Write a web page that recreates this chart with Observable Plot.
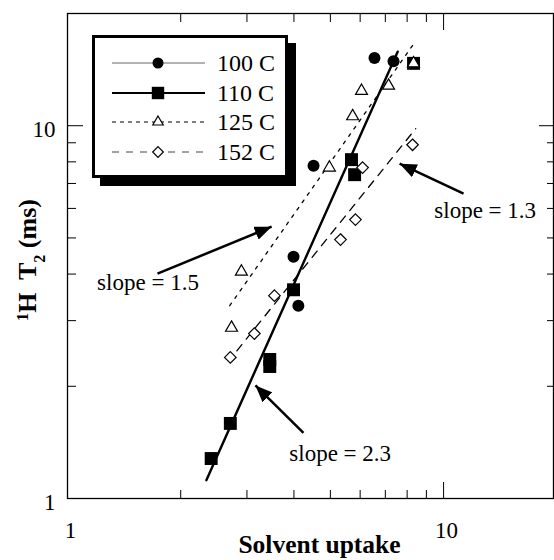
<!DOCTYPE html>
<html><head><meta charset="utf-8">
<script src="https://cdn.jsdelivr.net/npm/d3@7"></script>
<script src="https://cdn.jsdelivr.net/npm/@observablehq/plot@0.6"></script>
<style>
html,body{margin:0;padding:0;background:#fff;}
#chart{position:relative;width:554px;height:560px;overflow:hidden;}
#legend{position:absolute;left:0;top:0;}
</style></head><body><div id="chart"></div>
<script>
// ---- data ----
const seriesNames = ["100 C", "110 C", "125 C", "152 C"];
const x100 = [6.55, 7.36, 4.51, 3.99, 4.11];
const y100 = [15.2, 14.9, 7.81, 4.45, 3.29];
const x110 = [2.41, 2.71, 3.45, 3.45, 3.99, 5.69, 5.80, 8.32];
const y110 = [1.28, 1.59, 2.36, 2.26, 3.63, 8.11, 7.39, 14.7];
const x125 = [8.32, 7.14, 6.05, 5.73, 4.97, 2.90, 2.73];
const y125 = [14.7, 12.8, 12.4, 10.6, 7.72, 4.06, 2.87];
const x152 = [8.27, 6.09, 5.83, 5.32, 3.55, 3.14, 2.71];
const y152 = [8.89, 7.72, 5.60, 4.95, 3.50, 2.77, 2.39];
const fitX110 = [2.34, 7.55], fitY110 = [1.12, 15.8];
const fitX125 = [2.70, 8.37], fitY125 = [3.29, 16.7];
const fitX152 = [2.82, 8.43], fitY152 = [2.49, 9.82];
const slopeLabels = ["slope = 1.5", "slope = 1.3", "slope = 2.3"];
const labelX = [1.637, 12.9, 5.31];
const labelY = [3.80, 5.92, 1.32];
const arrowX1 = [1.735, 11.3, 4.24], arrowY1 = [4.01, 6.57, 1.50];
const arrowX2 = [3.49, 7.64, 3.16], arrowY2 = [5.36, 7.91, 2.01];
const xDomain = [1, 19.6], yDomain = [1, 20];
const minorTicks = [2, 3, 4, 5, 6, 7, 8, 9];
const majorTicks = [10];
const tickValues = [1, 10];
const tickLabels = ["1", "10"];
const xTitle = "Solvent uptake";
const yTitleParts = [["1", "super"], ["H  T", null], ["2", "sub"], [" (ms)", null]];
const yTitle = "\u00b9H  T\u2082 (ms)";

// ---- helpers ----
const pts = (xs, ys) => xs.map((x, i) => ({x, y: ys[i]}));
const NS = "http://www.w3.org/2000/svg";
function filledArrow(color, context) {
  const doc = (context && context.document) || document;
  const m = doc.createElementNS(NS, "marker");
  m.setAttribute("viewBox", "-17 -7 17 14");
  m.setAttribute("markerWidth", 17);
  m.setAttribute("markerHeight", 14);
  m.setAttribute("refX", 0);
  m.setAttribute("refY", 0);
  m.setAttribute("orient", "auto");
  m.setAttribute("markerUnits", "userSpaceOnUse");
  const p = doc.createElementNS(NS, "path");
  p.setAttribute("d", "M-17,-7L0,0L-17,7Z");
  p.setAttribute("fill", color);
  p.setAttribute("stroke", "none");
  m.appendChild(p);
  return m;
}
const labelFmt = d => tickLabels[tickValues.indexOf(d)];
const noText = {fill: "none", label: null};

const arrows = arrowX1.map((x1, i) => ({x1, y1: arrowY1[i], x2: arrowX2[i], y2: arrowY2[i]}));
const labels = slopeLabels.map((t, i) => ({t, x: labelX[i], y: labelY[i]}));

const chart = Plot.plot({
  width: 554, height: 560,
  marginLeft: 67, marginRight: 1, marginTop: 13, marginBottom: 62,
  x: {type: "log", domain: xDomain},
  y: {type: "log", domain: yDomain},
  style: {fontFamily: "'Liberation Serif','Times New Roman',serif", fontSize: "22px", background: "white", color: "black"},
  marks: [
    // inward ticks on all four sides
    Plot.axisX(minorTicks, {anchor: "bottom", tickSize: 8, dy: -8, ...noText}),
    Plot.axisX(majorTicks, {anchor: "bottom", tickSize: 16, dy: -16, ...noText}),
    Plot.axisX(minorTicks, {anchor: "top", tickSize: 8, dy: 8, ...noText}),
    Plot.axisX(majorTicks, {anchor: "top", tickSize: 16, dy: 16, ...noText}),
    Plot.axisY(minorTicks, {anchor: "left", tickSize: 9, dx: 9, ...noText}),
    Plot.axisY(majorTicks, {anchor: "left", tickSize: 16, dx: 16, ...noText}),
    Plot.axisY(minorTicks, {anchor: "right", tickSize: 7, dx: -7, ...noText}),
    Plot.axisY(majorTicks, {anchor: "right", tickSize: 15, dx: -15, ...noText}),
    // tick labels
    Plot.axisX(tickValues, {anchor: "bottom", tickSize: 0, tickPadding: 23, dx: 3, fontSize: 23, tickFormat: labelFmt, label: null}),
    Plot.axisY(tickValues, {anchor: "left", tickSize: 0, tickPadding: 12, dy: 4, fontSize: 23, tickFormat: labelFmt, label: null}),
    Plot.frame({stroke: "black", strokeWidth: 1.3}),
    // fitted lines
    Plot.line(pts(fitX110, fitY110), {x: "x", y: "y", stroke: "black", strokeWidth: 2.4}),
    Plot.line(pts(fitX125, fitY125), {x: "x", y: "y", stroke: "black", strokeWidth: 1.3, strokeDasharray: "3,6"}),
    Plot.line(pts(fitX152, fitY152), {x: "x", y: "y", stroke: "black", strokeWidth: 1.3, strokeDasharray: "8,7"}),
    // annotation arrows
    Plot.link(arrows, {x1: "x1", y1: "y1", x2: "x2", y2: "y2", stroke: "black", strokeWidth: 2.5, markerEnd: filledArrow}),
    // data points
    Plot.dot(pts(x100, y100), {x: "x", y: "y", symbol: "circle", r: 6, fill: "black"}),
    Plot.dot(pts(x110, y110), {x: "x", y: "y", symbol: "square", r: 7.3, fill: "black"}),
    Plot.dot(pts(x125, y125), {x: "x", y: "y", symbol: "triangle2", r: 5.7, fill: "white", stroke: "black", strokeWidth: 1.2}),
    Plot.dot(pts(x152, y152), {x: "x", y: "y", symbol: "diamond2", r: 5.2, fill: "white", stroke: "black", strokeWidth: 1.2}),
    // slope labels
    Plot.text(labels, {x: "x", y: "y", text: "t", fontSize: 23, textAnchor: "middle"}),
    // axis titles
    Plot.text([xTitle], {frameAnchor: "bottom", text: d => d, textAnchor: "middle", lineAnchor: "middle", dx: 9, dy: 46, fontSize: 25.5, fontWeight: "bold"}),
    Plot.text([yTitle], {frameAnchor: "left", text: d => d, textAnchor: "middle", lineAnchor: "middle", rotate: -90, dx: -40, dy: 4, fontSize: 26, fontWeight: "bold"})
  ]
});

// rich y title (superscript / subscript)
chart.querySelectorAll("text").forEach(t => {
  if (t.textContent === yTitle) {
    while (t.firstChild) t.removeChild(t.firstChild);
    for (const [s, shift] of yTitleParts) {
      const ts = document.createElementNS(NS, "tspan");
      ts.textContent = s;
      if (shift) { ts.setAttribute("baseline-shift", shift); ts.setAttribute("font-size", "62%"); }
      t.appendChild(ts);
    }
    t.style.whiteSpace = "pre";
  }
});

const holder = document.getElementById("chart");
holder.appendChild(chart);

// ---- legend (boxed, with drop shadow) ----
const legendStyles = [
  {stroke: "#666", width: 1, dash: null, symbol: d3.symbolCircle, r: 5.5, fill: "black", mstroke: "none"},
  {stroke: "black", width: 1.8, dash: null, symbol: d3.symbolSquare, r: 7, fill: "black", mstroke: "none"},
  {stroke: "black", width: 1.2, dash: "4,4", symbol: d3.symbolTriangle2, r: 5, fill: "white", mstroke: "black"},
  {stroke: "#444", width: 1, dash: "7,7", symbol: d3.symbolDiamond2, r: 4.8, fill: "white", mstroke: "black"}
];
const lg = d3.select(holder).append("svg").attr("id", "legend").attr("width", 554).attr("height", 560)
  .style("font-family", "'Liberation Serif','Times New Roman',serif");
lg.append("rect").attr("x", 100).attr("y", 43).attr("width", 196).attr("height", 143).attr("fill", "black");
lg.append("rect").attr("x", 93.5).attr("y", 36.5).attr("width", 193).attr("height", 140)
  .attr("fill", "white").attr("stroke", "black").attr("stroke-width", 3);
const rowY = [63, 93, 122, 152];
seriesNames.forEach((name, i) => {
  const s = legendStyles[i], cy = rowY[i];
  lg.append("line").attr("x1", 112).attr("x2", 205).attr("y1", cy).attr("y2", cy)
    .attr("stroke", s.stroke).attr("stroke-width", s.width).attr("stroke-dasharray", s.dash);
  lg.append("path").attr("transform", `translate(158,${cy})`)
    .attr("d", d3.symbol(s.symbol, Math.PI * s.r * s.r)())
    .attr("fill", s.fill).attr("stroke", s.mstroke).attr("stroke-width", 1.2);
  lg.append("text").attr("x", 217).attr("y", cy).attr("dominant-baseline", "central")
    .attr("font-size", 24).attr("fill", "black").text(name);
});
</script>
</body></html>
